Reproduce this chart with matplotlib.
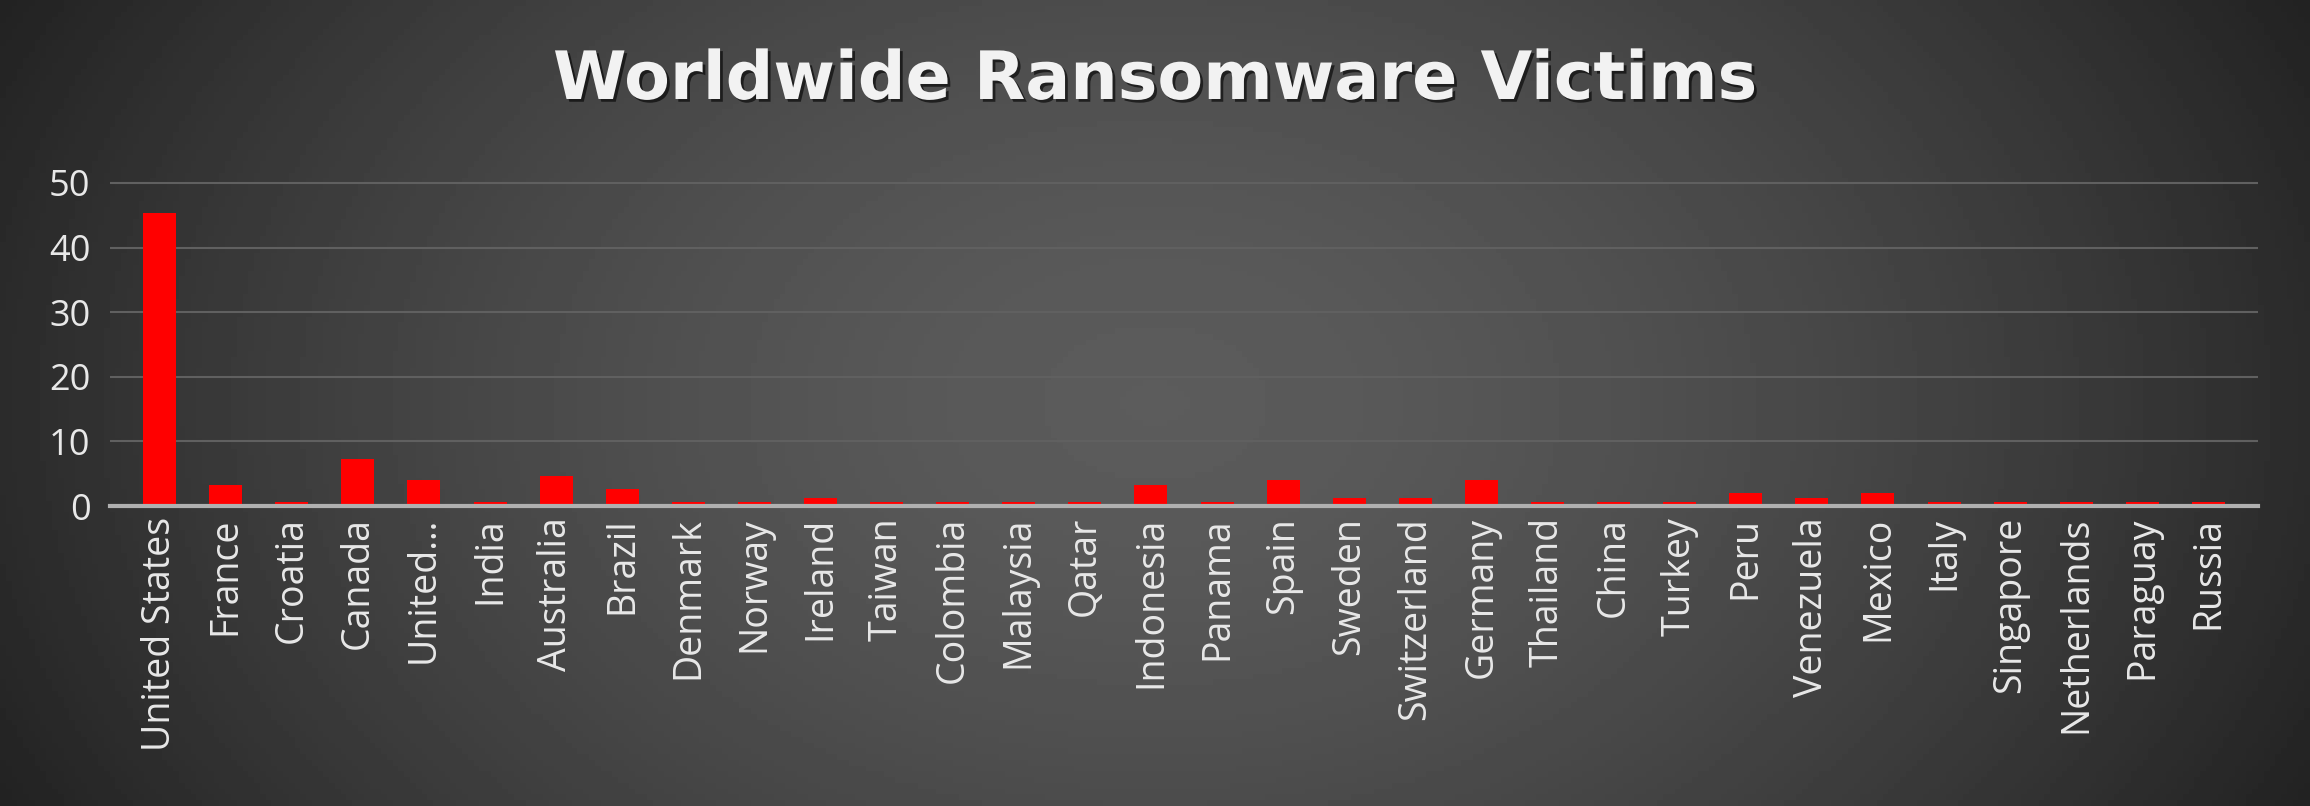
import numpy as np
import matplotlib.pyplot as plt
import matplotlib.patheffects as pe

countries = ["United States","France","Croatia","Canada","United…","India","Australia","Brazil",
             "Denmark","Norway","Ireland","Taiwan","Colombia","Malaysia","Qatar","Indonesia","Panama",
             "Spain","Sweden","Switzerland","Germany","Thailand","China","Turkey","Peru","Venezuela",
             "Mexico","Italy","Singapore","Netherlands","Paraguay","Russia"]
victims = [45.3,3.3,0.67,7.3,4.0,0.67,4.6,2.67,0.67,0.67,1.2,0.67,0.67,0.67,0.67,3.3,0.67,
           4.0,1.2,1.2,4.0,0.67,0.67,0.67,2.0,1.2,2.0,0.67,0.67,0.67,0.67,0.67]
yticks = [0,10,20,30,40,50]

W, H = 2310, 806
fig = plt.figure(figsize=(W/100, H/100), dpi=100)
bg = fig.add_axes([0,0,1,1])
xx, yy = np.meshgrid(np.linspace(-1,1,400), np.linspace(-1,1,140))
r = np.sqrt(xx**2 + (yy*0.5)**2)
img = 0.36 - 0.19*np.clip(r,0,1.2)**1.6
bg.imshow(img, cmap='gray', vmin=0, vmax=1, aspect='auto', extent=[0,1,0,1])
bg.axis('off')

ax = fig.add_axes([110/W, 1-506/H, (2258-110)/W, (506-183)/H*52.5/50])
ax.set_facecolor('none')
x = np.arange(len(countries))
ax.bar(x, victims, width=0.5, color='#ff0000', zorder=3)
ax.set_xlim(-0.75, len(countries)-0.25)
ax.set_ylim(0, 52.5)
ax.set_yticks(yticks)
ax.set_xticks(x)
ax.set_xticklabels(countries, rotation=90, fontsize=27, color='#e8e8e8', family='Open Sans')
for t in ax.get_yticklabels():
    t.set_family('Open Sans')
ax.tick_params(axis='y', labelsize=26, colors='#e8e8e8', length=0, pad=14)
ax.tick_params(axis='x', length=0, pad=8)
ax.grid(axis='y', color='#606060', linewidth=1.5, zorder=0)
for s in ['top','right','left']:
    ax.spines[s].set_visible(False)
ax.spines['bottom'].set_color('#b0b0b0')
ax.spines['bottom'].set_linewidth(3)
ax.spines['bottom'].set_zorder(4)
fig.text(0.5, 1-80/H, "Worldwide Ransomware Victims", ha='center', va='center',
         fontsize=48, fontweight='bold', color='#f2f2f2', family='DejaVu Sans',
         path_effects=[pe.withSimplePatchShadow(offset=(2,-2), shadow_rgbFace='black', alpha=0.6)])
fig.savefig('out.png', dpi=100)
